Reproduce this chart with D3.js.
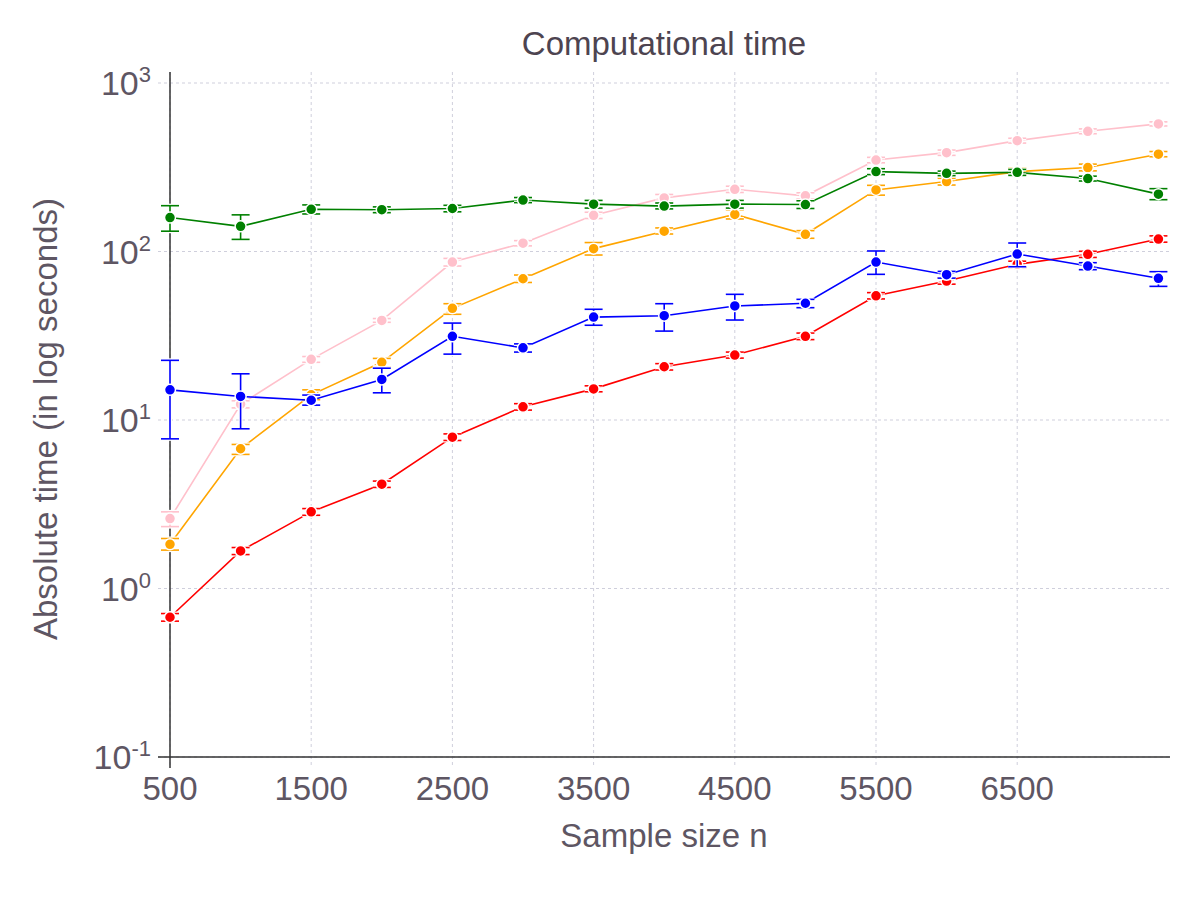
<!DOCTYPE html>
<html><head><meta charset="utf-8">
<script src="https://cdn.jsdelivr.net/npm/d3@7"></script>
<style>body{margin:0;background:#fff}svg{display:block}</style>
</head><body><div id="chart"></div>
<script>
const sampleSizes = [500,1000,1500,2000,2500,3000,3500,4000,4500,5000,5500,6000,6500,7000,7500];
const xTicks = [500,1500,2500,3500,4500,5500,6500];
const yTicks = [-1,0,1,2,3];

const greenMean = [159,141,178,177,180,202,191,186,191,190,298,291,295,271,219];
const greenLo   = [132,118,167,170,172,195,181,179,181,180,286,282,283,262,203];
const greenHi   = [187,165,189,184,188,209,201,194,201,200,310,300,307,280,236];

const pinkMean = [2.60,12.4,22.9,39.0,86.6,112,164,208,234,214,349,386,455,517,572];
const pinkLo   = [2.33,11.8,22.0,38.0,82,108,157,198,224,205,336,372,440,500,556];
const pinkHi   = [2.85,13.0,23.8,40.0,91,116,171,218,244,223,362,400,470,534,588];

const orangeMean = [1.83,6.75,14.1,22.0,46.0,68.9,104,132,166,126.5,232,260,298,315,378];
const orangeLo   = [1.69,6.25,13.2,20.6,42.4,65.5,95.3,127,156,119.8,216,248,286,301,365];
const orangeHi   = [1.98,7.16,15.1,23.2,49,72.5,113,138,177,133,247,272,312,330,392];

const blueMean = [15.1,13.8,13.1,17.4,31.4,26.8,40.8,41.6,47.5,49.3,86.6,72.8,96.6,82,69.3];
const blueLo   = [7.73,8.87,12.25,14.5,24.6,25.3,36.5,33.7,39.2,46.4,73.2,69.5,81.2,78,62.1];
const blueHi   = [22.6,18.8,14.06,20.3,37.6,28.3,45.4,49,55.7,52,100.7,76.2,112.3,85.8,75.9];

const redMean = [0.675,1.67,2.85,4.16,7.91,11.98,15.3,20.7,24.3,31.4,54.6,66.8,83.9,96.2,118.6];
const redLo   = [0.64,1.59,2.72,3.98,7.56,11.45,14.7,19.8,23.3,30.0,52.3,64.0,80.3,92.2,113.6];
const redHi   = [0.71,1.75,2.98,4.34,8.27,12.5,15.95,21.6,25.3,32.8,57.0,69.7,87.6,100.3,123.8];

const series = [
  {color:"#ffc0cb", mean:pinkMean, lo:pinkLo, hi:pinkHi},
  {color:"#ffa500", mean:orangeMean, lo:orangeLo, hi:orangeHi},
  {color:"#ff0000", mean:redMean, lo:redLo, hi:redHi},
  {color:"#0000ff", mean:blueMean, lo:blueLo, hi:blueHi},
  {color:"#008000", mean:greenMean, lo:greenLo, hi:greenHi}
];

const W = 1200, H = 900;
const mLeft = 170, mRight = 1170, mTop = 72, mBottom = 757;
const textColor = "#5e5663";
const fontFam = "'Liberation Sans', Arial, Helvetica, sans-serif";

const svg = d3.select("#chart").append("svg").attr("width", W).attr("height", H)
  .style("font-family", fontFam);

const x = d3.scaleLinear().domain([500, 7582]).range([mLeft, mRight]);
const y = d3.scaleLog().domain([0.1, 1000]).range([mBottom, 83]);

// grid
const grid = svg.append("g");
grid.selectAll("line.gx").data(xTicks).join("line")
  .attr("x1", d => x(d)).attr("x2", d => x(d))
  .attr("y1", mTop).attr("y2", mBottom + 11)
  .attr("stroke", "#cfcfdc").attr("stroke-width", 1).attr("stroke-dasharray", "3,3");
grid.selectAll("line.gy").data(yTicks).join("line")
  .attr("y1", d => y(Math.pow(10, d))).attr("y2", d => y(Math.pow(10, d)))
  .attr("x1", mLeft - 12).attr("x2", mRight)
  .attr("stroke", "#cfcfdc").attr("stroke-width", 1).attr("stroke-dasharray", "3,3");

// axes lines
svg.append("line").attr("x1", mLeft).attr("x2", mLeft).attr("y1", mTop).attr("y2", mBottom + 11)
  .attr("stroke", "#333").attr("stroke-width", 1.5);
svg.append("line").attr("x1", mLeft - 12).attr("x2", mRight).attr("y1", mBottom).attr("y2", mBottom)
  .attr("stroke", "#333").attr("stroke-width", 1.5);

// x tick labels
svg.selectAll("text.xt").data(xTicks).join("text")
  .attr("x", d => x(d)).attr("y", 800).attr("text-anchor", "middle")
  .attr("font-size", 33).attr("fill", textColor).text(d => d);

// y tick labels
const yt = svg.selectAll("text.yt").data(yTicks).join("text")
  .attr("x", 151).attr("y", d => y(Math.pow(10, d)) + 12).attr("text-anchor", "end")
  .attr("font-size", 34).attr("fill", textColor);
yt.append("tspan").text("10");
yt.append("tspan").attr("font-size", 22).attr("dy", -13).text(d => d);

// title and axis labels
svg.append("text").attr("x", 664).attr("y", 55).attr("text-anchor", "middle")
  .attr("font-size", 33).attr("fill", "#4d4450").text("Computational time");
svg.append("text").attr("x", 664).attr("y", 847).attr("text-anchor", "middle")
  .attr("font-size", 33).attr("fill", textColor).text("Sample size n");
svg.append("text").attr("transform", "translate(57,419) rotate(-90)").attr("text-anchor", "middle")
  .attr("font-size", 33).attr("fill", textColor).text("Absolute time (in log seconds)");

const line = d3.line().x(d => x(d.n)).y(d => y(d.v));

series.forEach(s => {
  const pts = sampleSizes.map((n, i) => ({n, v: s.mean[i], lo: s.lo[i], hi: s.hi[i]}));
  const g = svg.append("g");
  g.append("path").datum(pts).attr("d", line).attr("fill", "none")
    .attr("stroke", s.color).attr("stroke-width", 1.6);
  const eb = g.selectAll("g.eb").data(pts).join("g");
  [["#fff", 4], [s.color, 1.6]].forEach(([c, w]) => {
    eb.append("line").attr("x1", d => x(d.n)).attr("x2", d => x(d.n))
      .attr("y1", d => y(d.lo)).attr("y2", d => y(d.hi)).attr("stroke", c).attr("stroke-width", w);
    eb.append("line").attr("x1", d => x(d.n) - 9).attr("x2", d => x(d.n) + 9)
      .attr("y1", d => y(d.lo)).attr("y2", d => y(d.lo)).attr("stroke", c).attr("stroke-width", w);
    eb.append("line").attr("x1", d => x(d.n) - 9).attr("x2", d => x(d.n) + 9)
      .attr("y1", d => y(d.hi)).attr("y2", d => y(d.hi)).attr("stroke", c).attr("stroke-width", w);
  });
  g.selectAll("circle").data(pts).join("circle")
    .attr("cx", d => x(d.n)).attr("cy", d => y(d.v)).attr("r", 5.5)
    .attr("fill", s.color).attr("stroke", "#fff").attr("stroke-width", 1.5);
});
</script></body></html>
